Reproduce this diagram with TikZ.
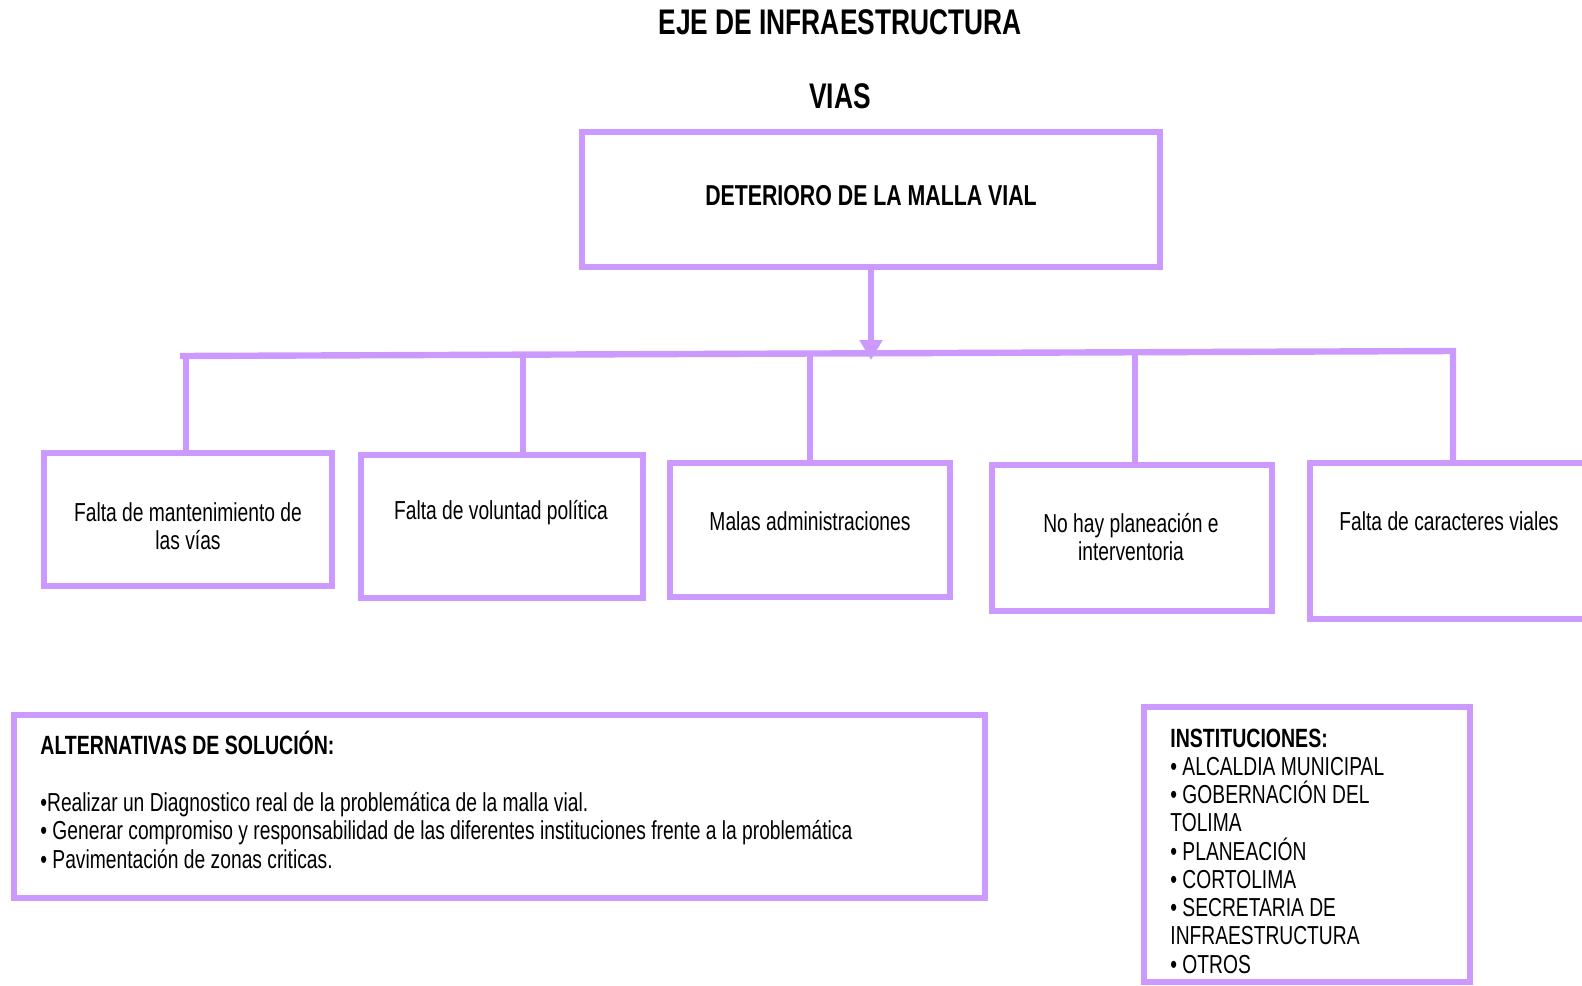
\documentclass[tikz,border=0pt]{standalone}
\usepackage{fontspec}
\setmainfont{Liberation Sans}[FakeStretch=0.74]
\usepackage{tikz}
\usetikzlibrary{arrows.meta,calc}
\definecolor{lila}{RGB}{204,153,255}
\tikzset{
  lilabox/.style  = {draw=lila, line width=3.2pt, inner sep=0pt},
  conn/.style     = {draw=lila, line width=3.2pt},
  conntip/.style  = {conn, -{Triangle[length=10pt,width=11pt]}},
  boxtxt/.style   = {font=\fontsize{13}{14}\selectfont, align=center, inner sep=0pt},
  headtxt/.style  = {font=\fontsize{17.8}{20}\selectfont\bfseries, inner sep=0pt},
  roottxt/.style  = {font=\fontsize{14.4}{16}\selectfont\bfseries, inner sep=0pt},
  itemtxt/.style  = {font=\fontsize{13}{14}\selectfont, anchor=base west, inner sep=0pt},
  itemhead/.style = {itemtxt, font=\fontsize{13.2}{14}\selectfont\bfseries},
}
% box drawn from its two corners (pixel units)
\newcommand{\pbox}[5]{%
  \node[lilabox, minimum width={(#4-#2)*0.5pt}, minimum height={(#5-#3)*0.5pt}]
    (#1) at ({(#2+#4)/2},{(#3+#5)/2}) {};
}

\begin{document}
\begin{tikzpicture}[x=0.5pt, y=-0.5pt]
  \useasboundingbox (0,0) rectangle (1582,985);

  \node[headtxt] (eje)  at (840,22) {EJE DE INFRAESTRUCTURA};
  \node[headtxt] (vias) at (840,96) {VIAS};

  % problem
  \pbox{root}{582}{132}{1160}{267}
  \node[roottxt] (rootlab) at (871,196) {DETERIORO DE LA MALLA VIAL};

  % causes
  \pbox{c1}{44}{453}{332}{586}
  \pbox{c2}{361}{455}{643}{598}
  \pbox{c3}{670}{463}{950}{597}
  \pbox{c4}{992}{465}{1272}{611}
  \pbox{c5}{1310}{463}{1590}{619}
  \node[boxtxt] (c1lab) at (188,526)  {Falta de mantenimiento de\\las vías};
  \node[boxtxt] (c2lab) at (501,513)  {Falta de voluntad política};
  \node[boxtxt] (c3lab) at (810,521)  {Malas administraciones};
  \node[boxtxt] (c4lab) at (1131,537) {No hay planeación e\\interventoria};
  \node[boxtxt] (c5lab) at (1449,521) {Falta de caracteres viales};

  % bus
  \coordinate (busL) at (180,356);
  \coordinate (b1) at (186,356);
  \coordinate (b2) at (523,355);
  \coordinate (b3) at (810,354);
  \coordinate (b4) at (1135,353);
  \coordinate (b5) at (1453,351);
  \coordinate (tip) at (872,360);
  \draw[conn] (busL) -- (b5) -- (b5 |- c5.north);
  \draw[conn] (b1) -- (b1 |- c1.north);
  \draw[conn] (b2) -- ([yshift=-3pt]b2 |- c2.north);
  \draw[conn] (b3) -- (b3 |- c3.north);
  \draw[conn] (b4) -- (b4 |- c4.north);
  \draw[conntip] (root.south) -- (root.south |- tip);

  % alternatives
  \pbox{alt}{14}{715}{985}{898}
  \node[itemhead] (alttitle) at (40,754) {ALTERNATIVAS DE SOLUCIÓN:};
  \foreach \y/\t [count=\i] in {
      811/{•Realizar un Diagnostico real de la problemática de la malla vial.},
      839/{• Generar compromiso y responsabilidad de las diferentes instituciones frente a la problemática},
      868/{• Pavimentación de zonas criticas.}}
    \node[itemtxt] (alt\i) at (40,\y) {\t};

  % institutions
  \pbox{inst}{1144}{707}{1470}{982}
  \node[itemhead] (insttitle) at (1170,747) {INSTITUCIONES:};
  \foreach \y/\t [count=\i] in {
      775/{• ALCALDIA MUNICIPAL},
      803/{• GOBERNACIÓN DEL},
      831/{TOLIMA},
      860/{• PLANEACIÓN},
      888/{• CORTOLIMA},
      916/{• SECRETARIA DE},
      944/{INFRAESTRUCTURA},
      973/{• OTROS}}
    \node[itemtxt] (inst\i) at (1170,\y) {\t};
\end{tikzpicture}
\end{document}
